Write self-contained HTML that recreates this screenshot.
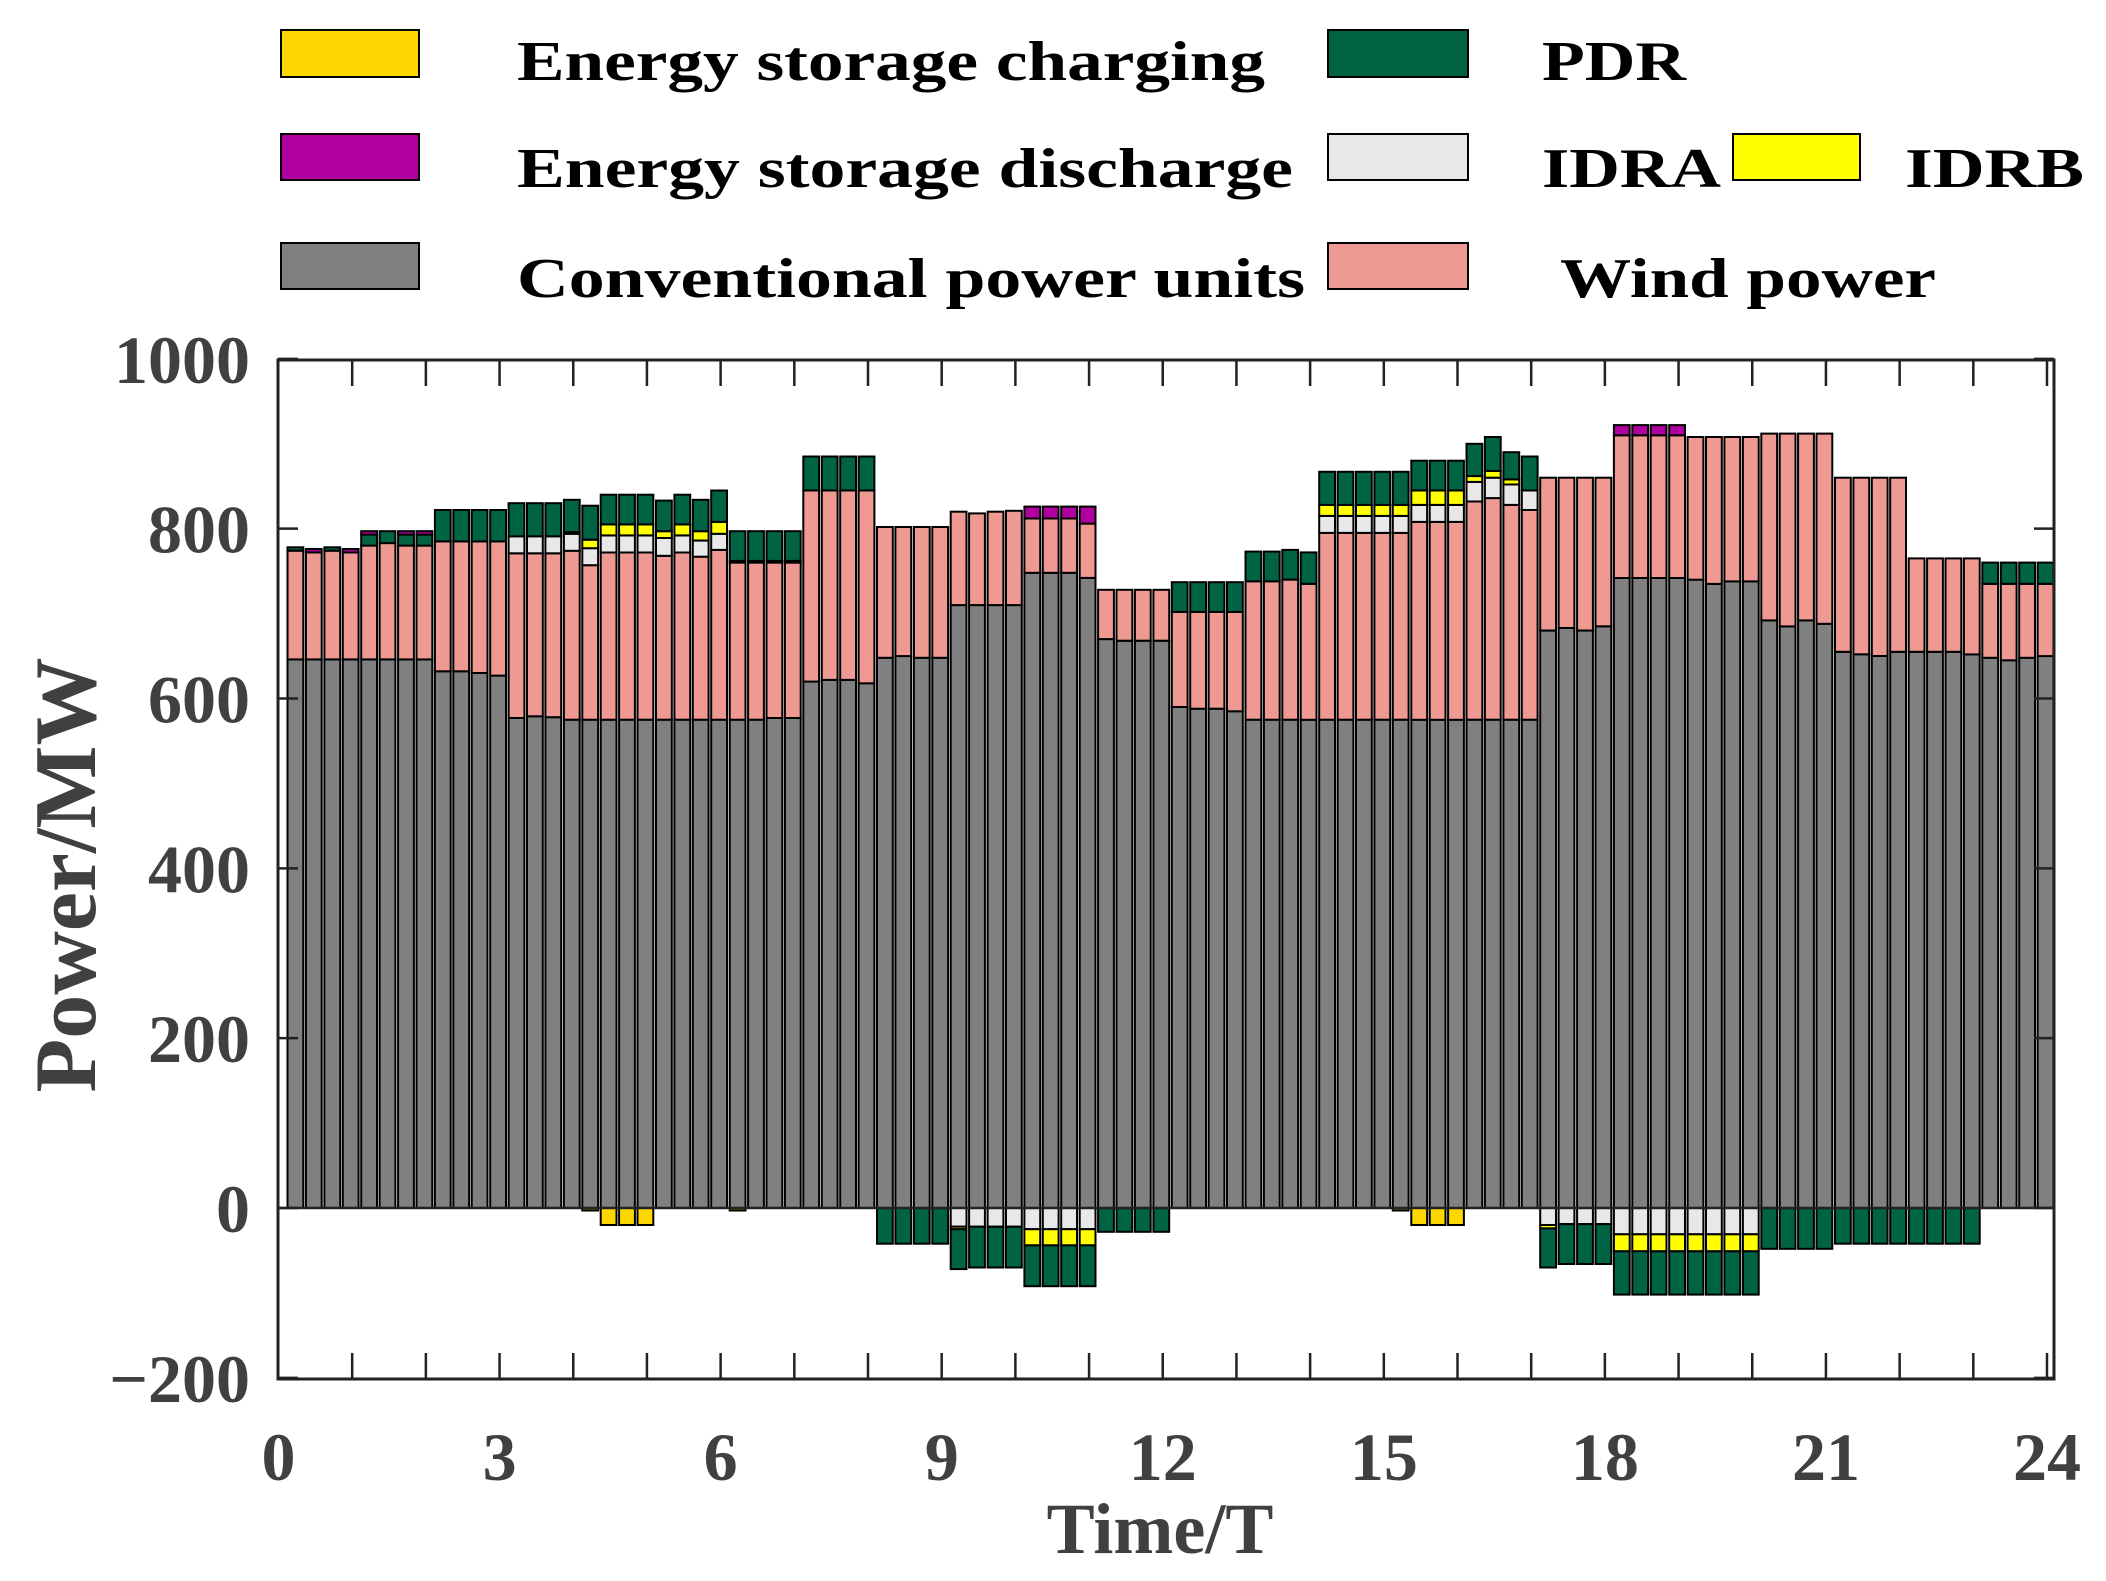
<!DOCTYPE html>
<html><head><meta charset="utf-8"><style>
html,body{margin:0;padding:0;background:#fff;}
svg{display:block;}
text{font-family:"Liberation Serif",serif;font-weight:bold;}
</style></head><body>
<svg id="s" width="2106" height="1581" xmlns="http://www.w3.org/2000/svg">
<g font-size="56" fill="#000">
<rect x="281" y="30" width="138" height="47" fill="#FFD700" stroke="#000" stroke-width="2"/>
<text x="517" y="80" textLength="748" lengthAdjust="spacingAndGlyphs">Energy storage charging</text>
<rect x="281" y="134" width="138" height="46" fill="#B000A0" stroke="#000" stroke-width="2"/>
<text x="517" y="187" textLength="776" lengthAdjust="spacingAndGlyphs">Energy storage discharge</text>
<rect x="281" y="243" width="138" height="46" fill="#808080" stroke="#000" stroke-width="2"/>
<text x="517" y="297" textLength="788" lengthAdjust="spacingAndGlyphs">Conventional power units</text>
<rect x="1328" y="30" width="140" height="47" fill="#006343" stroke="#000" stroke-width="2"/>
<text x="1542" y="80" textLength="144" lengthAdjust="spacingAndGlyphs">PDR</text>
<rect x="1328" y="134" width="140" height="46" fill="#E8E8E8" stroke="#000" stroke-width="2"/>
<text x="1542" y="187" textLength="179" lengthAdjust="spacingAndGlyphs">IDRA</text>
<rect x="1733" y="134" width="127" height="46" fill="#FFFF00" stroke="#000" stroke-width="2"/>
<text x="1905" y="187" textLength="179" lengthAdjust="spacingAndGlyphs">IDRB</text>
<rect x="1328" y="243" width="140" height="46" fill="#EE9A93" stroke="#000" stroke-width="2"/>
<text x="1560" y="297" textLength="376" lengthAdjust="spacingAndGlyphs">Wind power</text>
</g>
<g id="bars"></g>
<g id="axes"></g>
</svg>
<script>
var L=278,R=2054,T=360,B=1379,Y0=1208,K=(1379-360)/1200,HX=(2047-278.5)/24;
function Y(v){return Y0-v*K;}
function X(t){return 278.5+t*HX;}
var C={g:"#808080",w:"#EE9A93",a:"#E8E8E8",b:"#FFFF00",p:"#006343",d:"#B000A0",c:"#FFD700"};
var bars=[];
function add(up,dn){bars.push([up,dn||[]]);}
add([646,774,0,0,778,0]);add([646,772,0,0,0,776]);add([646,774,0,0,778,0]);add([646,772,0,0,0,776]);
add([646,780,0,0,793,797]);add([646,783,0,0,797,0]);add([646,780,0,0,793,797]);add([646,780,0,0,793,797]);
[632,632,630,627].forEach(function(g){add([g,785,0,0,822,0]);});
add([577,771,791,0,830,0]);add([579,771,791,0,830,0]);add([578,771,791,0,830,0]);add([575,774,794,796,834,0]);
add([575,757,777,787,827,0],[3]);add([575,772,792,805,840,0],[20]);add([575,772,792,805,840,0],[20]);add([575,772,792,805,840,0],[20]);
add([575,768,789,797,833,0]);add([575,772,792,805,840,0]);add([575,767,786,797,834,0]);add([575,775,794,808,845,0]);
add([575,760,762,0,797,0],[3]);add([575,760,762,0,797,0]);add([577,760,762,0,797,0]);add([577,760,762,0,797,0]);
[620,622,622,618].forEach(function(g){add([g,845,0,0,885,0]);});
[648,650,648,648].forEach(function(g){add([g,802,0,0,0,0],[0,0,0,42]);});
add([710,820,0,0,0,0],[0,22,25,72]);add([710,818,0,0,0,0],[0,22,0,70]);add([710,820,0,0,0,0],[0,22,0,70]);add([710,821,0,0,0,0],[0,22,0,70]);
add([748,812,0,0,0,826],[0,25,44,92]);add([748,812,0,0,0,826],[0,25,44,92]);add([748,812,0,0,0,826],[0,25,44,92]);add([742,806,0,0,0,826],[0,25,44,92]);
[670,668,668,668].forEach(function(g){add([g,728,0,0,0,0],[0,0,0,28]);});
[590,588,588,585].forEach(function(g){add([g,702,0,0,737,0]);});
add([575,738,0,0,773,0]);add([575,738,0,0,773,0]);add([575,740,0,0,775,0]);add([575,735,0,0,772,0]);
for(var i=0;i<4;i++)add([575,795,815,828,867,0]);
add([575,795,815,828,867,0],[3]);for(i=0;i<3;i++)add([575,808,828,845,880,0],[20]);
add([575,832,855,862,900,0]);add([575,836,860,868,908,0]);add([575,828,852,858,890,0]);add([575,822,845,0,885,0]);
add([680,860,0,0,0,0],[0,20,24,70]);add([683,860,0,0,0,0],[0,19,0,66]);add([680,860,0,0,0,0],[0,19,0,66]);add([685,860,0,0,0,0],[0,19,0,66]);
for(i=0;i<4;i++)add([742,910,0,0,0,922],[0,31,51,102]);
[740,735,738,738].forEach(function(g){add([g,908,0,0,0,0],[0,31,51,102]);});
[692,685,692,688].forEach(function(g){add([g,912,0,0,0,0],[0,0,0,48]);});
[655,652,650,655].forEach(function(g){add([g,860,0,0,0,0],[0,0,0,42]);});
[655,655,655,652].forEach(function(g){add([g,765,0,0,0,0],[0,0,0,42]);});
[648,645,648,650].forEach(function(g){add([g,735,0,0,760,0]);});
var h="",keys=["g","w","a","b","p","d"],nk=["c","a","b","p"],bw=0.215*HX;
bars.forEach(function(bd,i){
 var cx=X(0.25*(i+1)-0.02),x=(cx-bw/2).toFixed(1);
 var prev=0;
 bd[0].forEach(function(v,j){if(v>prev){h+='<rect x="'+x+'" y="'+Y(v).toFixed(1)+'" width="'+bw.toFixed(1)+'" height="'+((v-prev)*K).toFixed(1)+'" fill="'+C[keys[j]]+'" stroke="#000" stroke-width="2"/>';prev=v;}});
 prev=0;
 bd[1].forEach(function(v,j){if(v>prev){h+='<rect x="'+x+'" y="'+Y(-prev).toFixed(1)+'" width="'+bw.toFixed(1)+'" height="'+((v-prev)*K).toFixed(1)+'" fill="'+C[nk[j]]+'" stroke="#000" stroke-width="2"/>';prev=v;}});
});
document.getElementById("bars").innerHTML=h;
var a='<rect x="'+L+'" y="'+T+'" width="'+(R-L)+'" height="'+(B-T)+'" fill="none" stroke="#222" stroke-width="3"/>';
a+='<line x1="'+L+'" y1="'+Y0+'" x2="'+R+'" y2="'+Y0+'" stroke="#222" stroke-width="2.5"/>';
for(i=1;i<=24;i++){var x=X(i);a+='<line x1="'+x+'" y1="'+B+'" x2="'+x+'" y2="'+(B-26)+'" stroke="#222" stroke-width="2.5"/><line x1="'+x+'" y1="'+T+'" x2="'+x+'" y2="'+(T+26)+'" stroke="#222" stroke-width="2.5"/>';}
for(var v=-200;v<=1000;v+=200){var y=Y(v);a+='<line x1="'+L+'" y1="'+y+'" x2="'+(L+20)+'" y2="'+y+'" stroke="#222" stroke-width="2.5"/><line x1="'+R+'" y1="'+y+'" x2="'+(R-20)+'" y2="'+y+'" stroke="#222" stroke-width="2.5"/>';
 a+='<text x="250" y="'+(y+24)+'" font-size="68" fill="#404040" text-anchor="end">'+(v<0?'\u2212200':v)+'</text>';}
for(i=0;i<=24;i+=3){a+='<text x="'+X(i)+'" y="1480" font-size="68" fill="#404040" text-anchor="middle">'+i+'</text>';}
a+='<text x="1160" y="1553" font-size="72" fill="#404040" text-anchor="middle">Time/T</text>';
a+='<text transform="translate(95,875) rotate(-90)" font-size="88" fill="#404040" text-anchor="middle">Power/MW</text>';
document.getElementById("axes").innerHTML=a;
</script>
</body></html>
